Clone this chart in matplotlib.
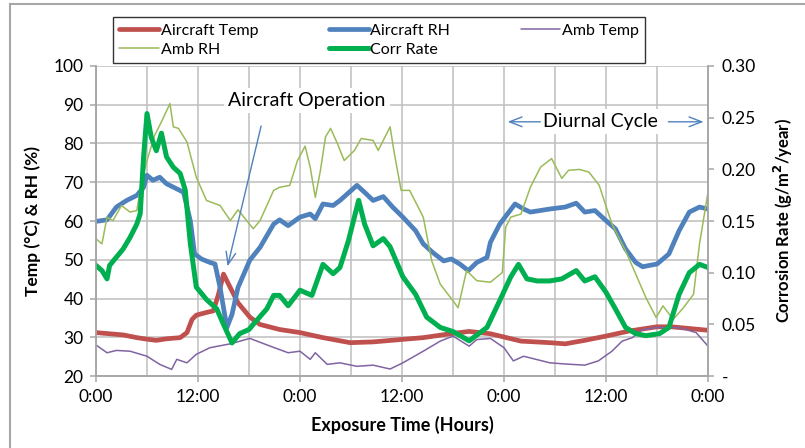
import matplotlib.pyplot as plt
from matplotlib.ticker import FixedLocator, FuncFormatter
from matplotlib.lines import Line2D

plt.rcParams['font.family'] = ['Lato', 'DejaVu Sans']

# hours of exposure and readings taken off the chart
ac_temp_t = [0, 3.2, 4.8, 6, 7.1, 8.3, 9.9, 10.7, 11.3, 11.8, 13, 13.8, 14.4, 15, 15.8, 16.7,
             18.1, 19.3, 21.6, 24, 26.7, 29.9, 32.6, 35.8, 38.5, 42, 43.9, 46.4, 50, 53.4,
             55.2, 57.5, 60, 62.7, 66, 67.7, 72]
ac_temp = [31.2, 30.6, 29.9, 29.5, 29.2, 29.6, 29.9, 31.2, 34.6, 35.7, 36.4, 36.8, 41, 46.3, 42.8, 38.9,
           35.2, 33.3, 32, 31.2, 29.9, 28.6, 28.8, 29.4, 29.9, 31, 31.5, 30.9, 29, 28.6,
           28.3, 29.2, 30.3, 31.6, 32.7, 32.7, 31.8]

ac_rh_t = [0, 1.3, 2.4, 3.6, 4.8, 5.6, 6, 6.7, 7.5, 8.3, 9.5, 10.3, 11.1, 11.6, 12.4, 13.4, 14,
           14.6, 15.4, 16, 16.7, 18.1, 19.3, 20.9, 21.6, 22.6, 24, 25.2, 25.8, 26.7, 27.9, 28.7,
           30.7, 31.6, 32.6, 33.8, 34.9, 36.1, 37.6, 38.5, 39.6, 40.9, 41.8, 42.8, 43.8, 44.8,
           46, 46.4, 47.5, 49.3, 50.3, 51.1, 53.4, 55.2, 56.5, 57.5, 58.7, 60, 61.1, 62.3, 63.5,
           64.3, 66, 67.4, 68.6, 69.8, 71, 72]
ac_rh = [59.9, 60.3, 63.6, 65.3, 66.6, 68.7, 71.8, 70.5, 71.3, 69.6, 68.3, 67.4, 60, 51.5, 50.2, 49.3, 48.9,
         42.8, 32.5, 35.9, 42.8, 49.9, 53.2, 59.2, 60.3, 58.8, 61, 61.8, 60.6, 64.4, 64, 65.3,
         69.2, 67.4, 65.3, 66.3, 63.6, 61, 57.5, 54.1, 51.9, 49.7, 50.2, 48.9, 47.2, 49.3,
         50.6, 54.5, 59.2, 64.4, 63.1, 62.3, 63.1, 63.6, 64.6, 62.3, 62.7, 60.1, 58, 52.8, 49.3,
         48.2, 48.9, 51.5, 57.5, 62.3, 63.6, 63.1]

amb_temp_t = [0, 1.3, 2.4, 4, 6, 7.5, 8.9, 9.5, 10.7, 11.8, 13.4, 15.8, 18.1, 20.5, 22.6, 24, 25.2,
              25.8, 27.2, 28.7, 30.7, 32.6, 34.6, 36.1, 38.5, 40.5, 42, 43.9, 44.8, 46.4, 48, 49.1,
              50.3, 53.4, 55.2, 57.5, 59.1, 60.7, 61.9, 63.1, 64.3, 66, 68.6, 70.6, 72]
amb_temp = [28, 26, 26.6, 26.4, 25.1, 23, 21.7, 24.3, 23.4, 25.6, 27.3, 28.3, 29.7, 27.7, 26, 26.4, 24.3,
            26, 23, 23.4, 22.5, 22.8, 21.8, 23.4, 26.4, 29, 30.3, 27.7, 29.4, 29.7, 27.3, 23.9,
            25.1, 23.4, 23.1, 22.8, 23.9, 26.4, 29, 29.9, 32, 32.5, 32.5, 31.2, 27.7]

amb_rh_t = [0, 0.7, 1.3, 2, 3, 4, 4.8, 5.4, 6, 6.9, 7.7, 8.7, 9.1, 9.7, 10.7, 11.8, 13, 14.6, 15.8,
            16.7, 18.5, 19.3, 20.9, 21.6, 22.8, 23.7, 24.6, 25.2, 25.8, 26.4, 27, 27.6, 28.4, 29.2,
            30.4, 31.2, 32.6, 33.2, 34.6, 35.1, 35.9, 36.9, 38.5, 39.5, 40.5, 42, 42.6, 43.6, 44.8,
            46.4, 47.8, 48.2, 48.8, 50, 51.1, 52.3, 53.6, 54.8, 55.6, 56.9, 58, 59.2, 60.7, 62.3,
            63.5, 64.7, 65.9, 66.7, 67.9, 69.1, 70.3, 71, 72]
amb_rh = [55.4, 54.1, 61, 60.1, 64, 62.3, 62.7, 70.5, 75.6, 82.1, 85.6, 90.3, 84.3, 83.9, 80.4, 71.3, 65.3, 64, 60.1,
          62.9, 58, 60.1, 67.9, 68.7, 69.2, 75.6, 79.3, 73.9, 66.1, 73, 81.7, 83.9, 80, 75.6,
          78.2, 81.3, 80.8, 78.2, 84.3, 77.4, 67.9, 67.9, 61, 49.7, 43.7, 39.4, 37.6, 47.2, 44.6,
          44.2, 46.7, 58.4, 61, 61.8, 68.7, 73.9, 76.1, 71, 73.1, 73.3, 72.6, 69.2, 59.2, 52.3,
          46.3, 40.2, 35.1, 38.1, 34.6, 37.6, 41.1, 54.1, 67.4]

corr_t = [0, 0.7, 1.3, 1.6, 2.4, 3.2, 4, 4.8, 5.2, 5.6, 6, 6.5, 7.1, 7.7, 8.3, 9.1, 9.9, 10.5, 11.1,
          11.8, 13, 14.2, 15, 16, 16.9, 18, 18.5, 20.1, 20.9, 21.6, 22.6, 24, 25.4, 26.7, 27.9, 28.7,
          29.7, 30.9, 31.6, 32.6, 33.8, 34.6, 36.1, 37.6, 38.9, 40.5, 42, 43.9, 46, 47.5, 48.8,
          49.7, 50.7, 51.9, 53.4, 54.8, 56.5, 57.5, 58.7, 60, 61.1, 62.3, 63.5, 64.7, 66.3, 67.4,
          68.6, 69.8, 71, 72]
corr_rate = [0.107, 0.102, 0.094, 0.107, 0.115, 0.123, 0.134, 0.147, 0.157, 0.212, 0.254, 0.231, 0.218, 0.235, 0.212, 0.202, 0.196, 0.180, 0.128,
             0.086, 0.074, 0.065, 0.050, 0.032, 0.041, 0.045, 0.050, 0.065, 0.078, 0.078, 0.068, 0.083, 0.078, 0.108, 0.099, 0.105,
             0.131, 0.170, 0.147, 0.126, 0.133, 0.125, 0.096, 0.079, 0.057, 0.047, 0.043, 0.034, 0.047, 0.073, 0.096,
             0.108, 0.094, 0.092, 0.092, 0.094, 0.102, 0.092, 0.096, 0.081, 0.065, 0.047, 0.041, 0.039, 0.041, 0.047,
             0.079, 0.100, 0.108, 0.105]

x_ticks = [0, 12, 24, 36, 48, 60, 72]
x_labels = ['0:00', '12:00', '0:00', '12:00', '0:00', '12:00', '0:00']

grid_c = '#BFBFBF'
axis_c = '#A6A6A6'

fig = plt.figure(figsize=(8.05, 4.48), dpi=100)
ax = fig.add_axes([96 / 805, 1 - 376 / 448, 612 / 805, 310 / 448])
ax2 = ax.twinx()

l_ac_t, = ax.plot(ac_temp_t, ac_temp, color='#C0504D', lw=3.4, label='Aircraft Temp')
l_ac_rh, = ax.plot(ac_rh_t, ac_rh, color='#4F81BD', lw=3.4, label='Aircraft RH')
l_amb_t, = ax.plot(amb_temp_t, amb_temp, color='#8064A2', lw=1.1, label='Amb Temp')
l_amb_rh, = ax.plot(amb_rh_t, amb_rh, color='#9BBB59', lw=1.1, label='Amb RH')
l_corr, = ax2.plot(corr_t, corr_rate, color='#00B050', lw=3.6, label='Corr Rate')

ax.set_xlim(0, 72)
ax.set_ylim(20, 100)
ax2.set_ylim(0, 0.30)

ax.xaxis.set_major_locator(FixedLocator(x_ticks))
ax.xaxis.set_minor_locator(FixedLocator(range(0, 73, 6)))
ax.set_xticklabels(x_labels)
ax.set_yticks(range(20, 101, 10))
ax2.set_yticks([0, 0.05, 0.10, 0.15, 0.20, 0.25, 0.30])
ax2.yaxis.set_major_formatter(FuncFormatter(lambda v, p: '-' if abs(v) < 1e-9 else '%.2f' % v))

ax.grid(True, which='both', color=grid_c, lw=1.1)
ax.set_axisbelow(True)
ax.tick_params(axis='both', which='major', length=4, color=axis_c, width=1.1, labelsize=12.5, pad=5)
ax.tick_params(axis='x', which='minor', length=0)
ax2.tick_params(axis='y', length=4, color=axis_c, width=1.1, labelsize=12.5, pad=6)

for a in (ax, ax2):
    for s in a.spines.values():
        s.set_color(axis_c)
        s.set_linewidth(1.1)
    a.spines['top'].set_visible(False)

ax.set_ylabel('Temp (°C) & RH (%)', fontsize=12.5, fontweight='bold', labelpad=9)
ax2.set_ylabel('Corrosion Rate (g/m$^\\mathbf{2}$/year)', fontsize=12, fontweight='bold', labelpad=11)
ax.set_xlabel('Exposure Time (Hours)', fontsize=13, fontweight='bold', labelpad=8)

# annotations (drawn on the top axes so they sit above every line)
ax2.annotate('', xy=(15.4, 47.6), xytext=(19.5, 85.2), xycoords=ax.transData, textcoords=ax.transData,
             arrowprops=dict(arrowstyle='->,head_length=0.9,head_width=0.35', color='#4F81BD', lw=1))
ax2.text(24.8, 91, 'Aircraft Operation', transform=ax.transData, ha='center', va='center', fontsize=14,
         bbox=dict(facecolor='white', edgecolor='none', pad=3))
ax2.text(59.4, 85.6, 'Diurnal Cycle', transform=ax.transData, ha='center', va='center', fontsize=14,
         bbox=dict(facecolor='white', edgecolor='none', pad=3))
ax2.annotate('', xy=(48.1, 85.6), xytext=(52.6, 85.6), xycoords=ax.transData, textcoords=ax.transData,
             arrowprops=dict(arrowstyle='->,head_length=0.9,head_width=0.35', color='#4F81BD', lw=1))
ax2.annotate('', xy=(71.8, 85.6), xytext=(67.0, 85.6), xycoords=ax.transData, textcoords=ax.transData,
             arrowprops=dict(arrowstyle='->,head_length=0.9,head_width=0.35', color='#4F81BD', lw=1))

# legend: row 1 Aircraft Temp / Aircraft RH / Amb Temp, row 2 Amb RH / Corr Rate
handles = [l_ac_t, l_amb_rh, l_ac_rh, l_corr, l_amb_t]
leg = fig.legend(handles, [h.get_label() for h in handles], ncol=3, loc='upper left',
                 bbox_to_anchor=(113 / 805, 1 - 17 / 448), fontsize=11.5, frameon=True, fancybox=False,
                 handlelength=2.5, handletextpad=0.1, columnspacing=4.4, labelspacing=0.3,
                 borderpad=0.4, borderaxespad=0)
leg.get_frame().set_edgecolor('black')
leg.get_frame().set_linewidth(1)
for h in leg.legend_handles:
    h.set_solid_capstyle('round')

# chart-area border
fig.add_artist(Line2D([10 / 805, 10 / 805], [0, 1 - 4 / 448], transform=fig.transFigure, color=axis_c, lw=1.5))
fig.add_artist(Line2D([10 / 805, 1], [1 - 4 / 448, 1 - 4 / 448], transform=fig.transFigure, color=axis_c, lw=1.5))

fig.savefig('out.png', dpi=100)
